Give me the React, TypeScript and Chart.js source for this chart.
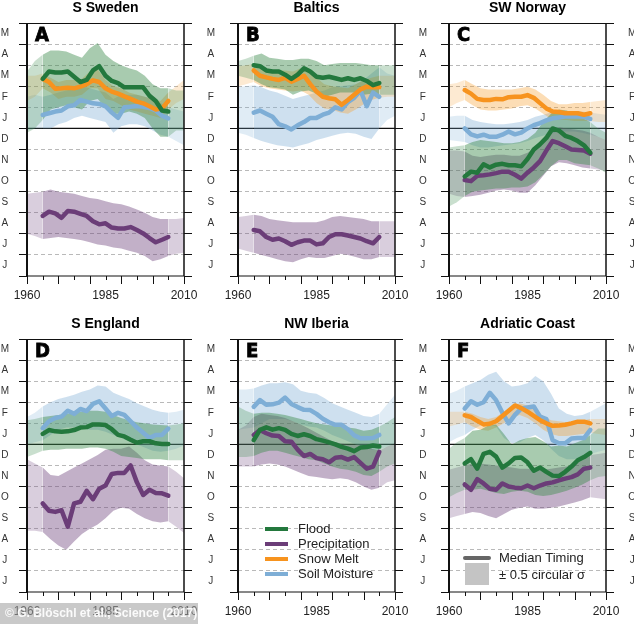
import React, { useEffect, useRef } from 'react';
import { Chart, registerables } from 'chart.js';

Chart.register(...registerables);
Chart.defaults.font.family = '"Liberation Sans", Arial, Helvetica, sans-serif';

// ---------- axes / categories ----------
const BAND_YEARS = [1960, 1962.5, 1965, 1967.5, 1970, 1972.5, 1975, 1977.5, 1980, 1982.5, 1985, 1987.5, 1990, 1992.5, 1995, 1997.5, 2000, 2002.5, 2005, 2007.5, 2010];
const MEDIAN_YEARS = [1965, 1967, 1969, 1971, 1973, 1975, 1977, 1979, 1981, 1983, 1985, 1987, 1989, 1991, 1993, 1995, 1997, 1999, 2001, 2003, 2005];
const Y_TICKS = [0, 0.5, 1, 1.5, 2, 2.5, 3, 3.5, 4, 4.5, 5, 5.5, 6, 6.5, 7, 7.5, 8, 8.5, 9, 9.5, 10, 10.5, 11, 11.5, 12];
const MONTH_LABELS = ['J', 'J', 'A', 'S', 'O', 'N', 'D', 'J', 'F', 'M', 'A', 'M'];
const X_TICKS = [1960, 1965, 1970, 1975, 1980, 1985, 1990, 1995, 2000, 2005, 2010];
const X_LABELS = [1960, 1985, 2010];
const YEAR_BOUNDARY = 7;
const INNER_START = 1965;
const INNER_END = 2005;

const LEGEND_ITEMS = [['flood', 'Flood'], ['precip', 'Precipitation'], ['snow', 'Snow Melt'], ['soil', 'Soil Moisture']];
const MEDIAN_LABEL = 'Median Timing';
const BAND_LABEL = '± 0.5 circular σ';
const CREDIT = '© G. Blöschl et al., Science (2017)';

// ---------- A: S Sweden ----------
const A_FLOOD = [9.35, 9.7, 9.65, 9.65, 9.7, 9.45, 9.2, 9.3, 9.75, 9.95, 9.5, 9.25, 9.15, 8.95, 8.95, 8.95, 8.95, 8.55, 8.3, 7.85, 7.8];
const A_FLOOD_HI = [9.7, 10.2, 10.5, 10.7, 10.7, 10.65, 10.5, 10.35, 10.8, 11.05, 10.5, 10.2, 10.0, 9.85, 9.75, 9.5, 9.1, 8.9, 8.9, 8.8, 8.8];
const A_FLOOD_LO = [6.8, 7.0, 7.4, 7.9, 8.0, 8.1, 8.0, 7.9, 8.3, 8.4, 8.0, 7.7, 7.7, 7.8, 7.7, 7.5, 7.0, 6.6, 6.6, 6.9, 6.9];
const A_SNOW = [9.35, 9.2, 8.88, 8.9, 8.93, 8.9, 8.98, 9.1, 9.28, 9.2, 8.9, 8.75, 8.65, 8.52, 8.4, 8.27, 8.19, 8.05, 7.9, 7.95, 8.3];
const A_SNOW_HI = [9.5, 9.5, 9.6, 9.4, 9.2, 9.3, 9.3, 9.35, 9.7, 9.8, 9.3, 9.0, 8.9, 8.7, 8.6, 8.5, 8.4, 8.3, 8.7, 9.0, 9.3];
const A_SNOW_LO = [8.3, 8.5, 8.9, 8.7, 8.4, 8.5, 8.5, 8.6, 8.9, 8.9, 8.4, 8.3, 8.1, 7.9, 7.8, 7.7, 7.6, 7.5, 7.9, 8.2, 8.4];
const A_SOIL = [7.64, 7.72, 7.8, 7.85, 8.05, 8.1, 8.35, 8.27, 8.19, 8.16, 8.05, 7.75, 7.5, 8.0, 8.03, 8.06, 8.03, 7.97, 7.85, 7.6, 7.48];
const A_SOIL_HI = [8.5, 8.6, 8.5, 8.6, 8.7, 8.8, 8.9, 9.0, 8.9, 8.8, 8.7, 8.4, 8.6, 8.6, 8.6, 8.5, 8.4, 8.2, 8.0, 7.9, 7.8];
const A_SOIL_LO = [6.9, 7.0, 7.0, 7.0, 7.2, 7.3, 7.5, 7.6, 7.5, 7.4, 7.3, 6.8, 7.1, 7.2, 7.2, 7.1, 6.9, 6.7, 6.6, 6.4, 6.2];
const A_PRECIP = [2.85, 3.05, 2.97, 2.76, 3.08, 3.05, 2.95, 2.85, 2.6, 2.45, 2.5, 2.3, 2.25, 2.25, 2.32, 2.18, 2.02, 1.8, 1.6, 1.72, 1.85];
const A_PRECIP_HI = [3.9, 3.95, 4.0, 4.1, 4.0, 3.95, 3.9, 3.8, 3.7, 3.65, 3.55, 3.45, 3.4, 3.3, 3.15, 3.0, 2.8, 2.7, 2.7, 2.7, 2.75];
const A_PRECIP_LO = [2.0, 1.9, 1.75, 1.8, 1.85, 1.8, 1.75, 1.7, 1.6, 1.5, 1.45, 1.35, 1.3, 1.2, 1.1, 0.95, 0.7, 0.8, 0.95, 1.05, 1.1];

// ---------- B: Baltics ----------
const B_FLOOD = [10.0, 9.95, 9.75, 9.7, 9.7, 9.55, 9.35, 9.55, 9.85, 9.7, 9.45, 9.4, 9.45, 9.38, 9.3, 9.38, 9.3, 9.38, 9.25, 9.05, 9.15];
const B_FLOOD_HI = [10.2, 10.3, 10.45, 10.55, 10.35, 10.3, 10.25, 10.25, 10.3, 10.3, 10.2, 10.0, 10.05, 10.1, 10.1, 10.1, 10.05, 10.0, 10.0, 10.0, 10.0];
const B_FLOOD_LO = [9.5, 9.4, 9.3, 9.1, 8.95, 8.9, 8.85, 8.6, 8.75, 8.8, 8.65, 8.5, 8.6, 8.7, 8.7, 8.7, 8.6, 8.65, 8.6, 8.6, 8.6];
const B_SNOW = [9.75, 9.5, 9.42, 9.35, 9.3, 9.4, 9.22, 9.35, 9.5, 9.1, 8.75, 8.5, 8.43, 8.38, 8.12, 8.35, 8.6, 8.85, 8.98, 8.95, 8.95];
const B_SNOW_HI = [9.95, 10.0, 10.05, 9.9, 9.8, 9.75, 9.75, 9.7, 9.85, 9.8, 9.4, 9.1, 9.0, 8.95, 8.9, 9.1, 9.3, 9.4, 9.5, 9.5, 9.5];
const B_SNOW_LO = [9.0, 9.1, 9.2, 9.0, 8.9, 8.85, 8.8, 8.75, 8.8, 8.6, 8.2, 7.95, 7.9, 7.75, 7.7, 7.9, 8.15, 8.35, 8.45, 8.5, 8.5];
const B_SOIL = [7.75, 7.85, 7.7, 7.55, 7.2, 7.1, 6.95, 7.15, 7.3, 7.5, 7.5, 7.65, 7.75, 8.0, 7.9, 8.25, 8.45, 8.8, 8.05, 8.7, 8.5];
const B_SOIL_HI = [8.95, 9.0, 9.05, 8.95, 8.8, 8.7, 8.55, 8.4, 8.5, 8.6, 8.7, 8.8, 8.95, 9.0, 9.05, 9.1, 9.3, 9.6, 9.9, 9.6, 9.5];
const B_SOIL_LO = [6.8, 6.7, 6.55, 6.4, 6.3, 6.2, 6.15, 6.1, 6.2, 6.3, 6.45, 6.55, 6.65, 6.75, 6.8, 6.75, 6.6, 6.5, 7.0, 7.4, 7.6];
const B_PRECIP = [2.18, 2.12, 1.85, 1.72, 1.78, 1.65, 1.48, 1.6, 1.68, 1.68, 1.5, 1.55, 1.85, 1.98, 1.98, 1.92, 1.85, 1.78, 1.65, 1.55, 1.85];
const B_PRECIP_HI = [2.8, 2.85, 2.9, 2.85, 2.7, 2.65, 2.6, 2.55, 2.55, 2.55, 2.55, 2.65, 2.8, 2.85, 2.8, 2.75, 2.7, 2.6, 2.6, 2.6, 2.6];
const B_PRECIP_LO = [1.3, 1.2, 1.1, 1.0, 0.9, 0.8, 0.7, 0.65, 0.8, 0.9, 0.85, 0.85, 0.95, 1.05, 1.0, 0.9, 0.8, 0.8, 0.9, 0.9, 0.9];

// ---------- C: SW Norway ----------
const C_FLOOD = [4.72, 4.95, 4.9, 5.3, 5.15, 5.28, 5.32, 5.25, 5.25, 5.2, 5.55, 6.0, 6.25, 6.55, 7.0, 6.9, 6.65, 6.55, 6.4, 6.2, 5.85];
const C_FLOOD_HI = [6.1, 6.15, 6.2, 6.35, 6.45, 6.4, 6.35, 6.3, 6.3, 6.35, 6.5, 6.8, 7.3, 7.7, 7.9, 7.85, 7.7, 7.5, 7.3, 7.0, 6.8];
const C_FLOOD_LO = [3.3, 3.5, 3.8, 4.0, 4.05, 4.1, 4.15, 4.15, 4.2, 4.2, 4.25, 4.45, 4.8, 5.2, 5.5, 5.5, 5.35, 5.3, 5.25, 5.1, 4.9];
const C_SNOW = [8.82, 8.65, 8.4, 8.35, 8.35, 8.4, 8.38, 8.48, 8.5, 8.5, 8.58, 8.45, 8.2, 7.95, 7.8, 7.78, 7.72, 7.72, 7.72, 7.65, 7.72];
const C_SNOW_HI = [9.1, 9.15, 9.3, 9.1, 8.9, 8.85, 8.85, 8.85, 8.85, 8.9, 8.98, 8.85, 8.6, 8.3, 8.15, 8.15, 8.2, 8.2, 8.25, 8.3, 8.35];
const C_SNOW_LO = [8.0, 8.2, 8.35, 8.1, 7.9, 7.85, 7.85, 7.9, 7.95, 8.05, 8.1, 7.95, 7.7, 7.45, 7.4, 7.4, 7.35, 7.35, 7.35, 7.3, 7.3];
const C_SOIL = [7.0, 6.72, 6.62, 6.7, 6.6, 6.6, 6.7, 6.85, 6.72, 6.8, 7.0, 7.15, 7.25, 7.38, 7.48, 7.52, 7.56, 7.56, 7.56, 7.55, 7.45];
const C_SOIL_HI = [7.55, 7.6, 7.6, 7.4, 7.3, 7.25, 7.2, 7.2, 7.25, 7.3, 7.4, 7.55, 7.65, 7.75, 7.8, 7.8, 7.8, 7.8, 7.75, 7.7, 7.65];
const C_SOIL_LO = [6.45, 6.4, 6.35, 6.2, 6.1, 6.1, 6.15, 6.2, 6.25, 6.3, 6.4, 6.55, 6.65, 6.75, 6.85, 6.85, 6.85, 6.8, 6.7, 6.6, 6.45];
const C_PRECIP = [4.55, 4.5, 4.75, 4.78, 4.82, 4.88, 4.95, 4.95, 4.8, 4.62, 4.9, 5.15, 5.45, 5.95, 6.4, 6.3, 6.15, 6.0, 5.98, 5.95, 5.8];
const C_PRECIP_HI = [5.95, 5.95, 5.9, 5.7, 5.65, 5.7, 5.75, 5.75, 5.7, 5.7, 5.85, 6.1, 6.5, 6.9, 7.05, 7.0, 6.95, 6.9, 6.8, 6.6, 6.45];
const C_PRECIP_LO = [3.9, 3.8, 3.75, 3.8, 3.85, 3.95, 4.05, 4.1, 4.05, 3.95, 3.95, 4.3, 4.75, 5.2, 5.4, 5.35, 5.25, 5.15, 5.1, 5.05, 5.0];

// ---------- D: S England ----------
const D_FLOOD = [7.5, 7.68, 7.62, 7.6, 7.62, 7.68, 7.8, 7.82, 7.95, 7.95, 7.92, 7.72, 7.45, 7.38, 7.22, 7.08, 7.15, 7.15, 7.05, 7.02, 7.02];
const D_FLOOD_HI = [8.15, 8.2, 8.3, 8.35, 8.4, 8.45, 8.5, 8.55, 8.6, 8.6, 8.55, 8.4, 8.25, 8.15, 8.05, 8.0, 7.95, 7.92, 7.9, 7.95, 8.0];
const D_FLOOD_LO = [6.4, 6.55, 6.7, 6.75, 6.75, 6.8, 6.8, 6.8, 6.85, 6.85, 6.8, 6.65, 6.45, 6.4, 6.35, 6.3, 6.3, 6.3, 6.25, 6.25, 6.25];
const D_SOIL = [7.77, 8.1, 8.25, 8.32, 8.6, 8.45, 8.68, 8.58, 8.92, 9.05, 8.7, 8.35, 8.5, 8.4, 8.1, 7.8, 7.55, 7.3, 7.45, 7.45, 7.75];
const D_SOIL_HI = [8.3, 8.5, 8.8, 9.0, 9.15, 9.25, 9.35, 9.5, 9.6, 9.8, 9.75, 9.45, 9.3, 9.15, 8.95, 8.8, 8.65, 8.55, 8.5, 8.55, 8.65];
const D_SOIL_LO = [7.0, 7.1, 7.2, 7.45, 7.7, 7.8, 7.8, 7.75, 7.7, 7.7, 7.6, 7.45, 7.3, 7.15, 7.0, 6.85, 6.7, 6.65, 6.7, 6.8, 6.95];
const D_PRECIP = [4.2, 3.85, 3.8, 3.88, 3.1, 4.2, 4.28, 4.8, 4.4, 4.9, 5.05, 5.6, 5.65, 5.65, 6.0, 5.2, 4.6, 4.85, 4.7, 4.68, 4.57];
const D_PRECIP_HI = [6.3, 6.1, 5.9, 5.55, 5.5, 5.7, 5.9, 6.1, 6.3, 6.5, 6.75, 6.8, 6.8, 6.9, 6.6, 6.25, 6.05, 6.0, 5.95, 5.7, 5.4];
const D_PRECIP_LO = [2.9, 2.9, 2.85, 2.5, 2.2, 2.0, 2.4, 2.75, 3.0, 3.2, 3.5, 3.85, 4.0, 3.95, 3.7, 3.5, 3.35, 3.3, 3.35, 3.1, 2.8];

// ---------- E: NW Iberia ----------
const E_FLOOD = [7.2, 7.69, 7.81, 7.7, 7.77, 7.69, 7.5, 7.4, 7.48, 7.4, 7.25, 7.18, 7.1, 7.0, 6.88, 6.8, 6.68, 6.85, 6.88, 6.95, 6.9];
const E_FLOOD_HI = [8.8, 8.6, 8.45, 8.5, 8.5, 8.45, 8.4, 8.3, 8.2, 8.1, 8.0, 7.95, 7.9, 7.85, 7.8, 7.75, 7.65, 7.7, 7.85, 8.05, 8.3];
const E_FLOOD_LO = [6.4, 6.4, 6.45, 6.6, 6.7, 6.7, 6.6, 6.5, 6.4, 6.3, 6.25, 6.1, 5.95, 5.85, 5.8, 5.7, 5.55, 5.5, 5.7, 5.95, 6.1];
const E_SOIL = [8.78, 9.1, 8.88, 8.9, 8.98, 9.22, 8.92, 8.77, 8.64, 8.63, 8.45, 8.22, 8.05, 7.93, 7.93, 7.72, 7.43, 7.29, 7.29, 7.3, 7.45];
const E_SOIL_HI = [9.6, 9.6, 9.65, 9.8, 9.9, 9.9, 9.95, 9.85, 9.55, 9.45, 9.4, 9.2, 8.95, 8.8, 8.65, 8.5, 8.35, 8.3, 8.45, 8.9, 9.35];
const E_SOIL_LO = [7.7, 7.75, 7.8, 8.0, 8.2, 8.2, 8.2, 8.1, 7.95, 7.85, 7.8, 7.65, 7.45, 7.3, 7.15, 7.0, 6.85, 6.75, 6.75, 6.9, 7.05];
const E_PRECIP = [7.45, 7.68, 7.53, 7.42, 7.4, 7.15, 7.13, 6.75, 6.45, 6.55, 6.35, 6.3, 6.15, 6.37, 6.4, 6.28, 6.4, 6.12, 5.85, 5.95, 6.65];
const E_PRECIP_HI = [7.7, 7.9, 8.3, 8.45, 8.4, 8.35, 8.25, 8.1, 7.95, 7.75, 7.55, 7.35, 7.15, 7.05, 7.0, 7.0, 6.95, 6.8, 6.7, 6.9, 7.05];
const E_PRECIP_LO = [5.95, 5.95, 5.95, 6.05, 6.1, 6.05, 5.95, 5.8, 5.65, 5.5, 5.45, 5.4, 5.35, 5.4, 5.35, 5.2, 5.0, 4.85, 4.95, 5.2, 5.3];

// ---------- F: Adriatic Coast ----------
const F_FLOOD = [6.1, 6.3, 5.85, 6.55, 6.65, 6.42, 5.9, 6.1, 6.36, 6.38, 6.15, 5.75, 5.9, 5.7, 5.52, 5.5, 5.7, 5.95, 6.25, 6.4, 6.6];
const F_FLOOD_HI = [6.8, 7.1, 7.3, 7.65, 7.7, 7.9, 7.95, 7.5, 7.0, 7.2, 7.3, 7.35, 7.15, 6.9, 6.95, 6.9, 7.05, 7.2, 7.45, 7.75, 7.75];
const F_FLOOD_LO = [4.5, 4.7, 4.85, 4.85, 4.9, 4.8, 4.7, 4.65, 4.75, 4.8, 4.75, 4.6, 4.55, 4.6, 4.7, 4.8, 4.95, 5.1, 5.3, 5.45, 5.5];
const F_SNOW = [8.38, 8.3, 8.12, 7.95, 7.98, 8.1, 8.35, 8.6, 8.85, 8.72, 8.55, 8.35, 8.15, 8.0, 7.88, 7.9, 7.93, 8.0, 8.08, 8.08, 8.0];
const F_SNOW_HI = [8.55, 8.55, 8.55, 8.45, 8.3, 8.2, 8.3, 8.55, 8.75, 8.95, 8.85, 8.6, 8.35, 8.15, 8.1, 8.05, 8.1, 8.15, 8.2, 8.2, 8.2];
const F_SNOW_LO = [7.85, 7.95, 8.05, 7.85, 7.7, 7.65, 7.8, 8.0, 8.25, 8.4, 8.25, 8.0, 7.7, 7.5, 7.4, 7.4, 7.45, 7.5, 7.55, 7.5, 7.45];
const F_SOIL = [8.7, 9.05, 8.88, 9.0, 9.45, 9.1, 8.5, 8.0, 8.4, 8.7, 8.75, 8.8, 8.32, 8.2, 7.2, 7.05, 7.05, 7.28, 7.3, 7.3, 7.69];
const F_SOIL_HI = [9.4, 9.55, 9.75, 9.9, 10.05, 10.3, 10.45, 10.0, 9.75, 9.8, 9.9, 10.25, 10.0, 9.4, 8.7, 8.45, 8.35, 8.4, 8.55, 8.75, 8.95];
const F_SOIL_LO = [7.1, 7.3, 7.45, 7.7, 7.9, 7.95, 7.85, 7.3, 7.05, 7.1, 7.3, 7.45, 7.2, 6.8, 6.45, 6.3, 6.3, 6.4, 6.55, 6.65, 6.75];
const F_PRECIP = [5.1, 4.85, 5.35, 5.15, 4.9, 4.85, 5.15, 5.0, 4.95, 4.92, 5.05, 4.92, 5.05, 5.15, 5.2, 5.3, 5.38, 5.45, 5.58, 5.85, 5.9];
const F_PRECIP_HI = [5.8, 5.9, 6.0, 6.1, 6.1, 6.05, 6.0, 5.95, 5.9, 5.85, 5.85, 5.8, 5.8, 5.85, 5.9, 5.95, 6.05, 6.25, 6.5, 6.55, 6.6];
const F_PRECIP_LO = [3.5, 3.6, 3.7, 3.8, 3.75, 3.6, 3.5, 3.7, 3.9, 4.0, 4.05, 3.95, 3.95, 4.0, 4.05, 4.15, 4.25, 4.35, 4.5, 4.45, 4.4];

// ---------- styles ----------
const STYLE: any = {
  flood: { line: '#23783d', inner: 'rgba(62,140,78,0.45)', outer: 'rgba(62,140,78,0.28)', order: 0 },
  snow: { line: '#f7931e', inner: 'rgba(248,160,50,0.36)', outer: 'rgba(248,160,50,0.22)', order: 1 },
  precip: { line: '#6b3d78', inner: 'rgba(110,66,125,0.42)', outer: 'rgba(110,66,125,0.26)', order: 2 },
  soil: { line: '#7eaed6', inner: 'rgba(126,174,214,0.38)', outer: 'rgba(126,174,214,0.24)', order: 3 },
};

const AREA_LEFT = [27, 238, 449];
const AREA_TOP = [23, 339];
const AREA_W = 157;
const AREA_H = 253;
const AXIS_W = 40;
const PAD_TOP = 23;
const X_AXIS_H = 34;
const CANVAS_W = AREA_W + 2 * AXIS_W;
const CANVAS_H = PAD_TOP + AREA_H + X_AXIS_H;
const LEFT_LABEL_PAD = [10, 15, 14];

const PANELS: any[] = [
  { title: 'S Sweden', letter: 'A', col: 0, row: 0, series: [
    { key: 'soil', med: A_SOIL, hi: A_SOIL_HI, lo: A_SOIL_LO },
    { key: 'precip', med: A_PRECIP, hi: A_PRECIP_HI, lo: A_PRECIP_LO },
    { key: 'snow', med: A_SNOW, hi: A_SNOW_HI, lo: A_SNOW_LO },
    { key: 'flood', med: A_FLOOD, hi: A_FLOOD_HI, lo: A_FLOOD_LO },
  ] },
  { title: 'Baltics', letter: 'B', col: 1, row: 0, series: [
    { key: 'soil', med: B_SOIL, hi: B_SOIL_HI, lo: B_SOIL_LO },
    { key: 'precip', med: B_PRECIP, hi: B_PRECIP_HI, lo: B_PRECIP_LO },
    { key: 'snow', med: B_SNOW, hi: B_SNOW_HI, lo: B_SNOW_LO },
    { key: 'flood', med: B_FLOOD, hi: B_FLOOD_HI, lo: B_FLOOD_LO },
  ] },
  { title: 'SW Norway', letter: 'C', col: 2, row: 0, series: [
    { key: 'soil', med: C_SOIL, hi: C_SOIL_HI, lo: C_SOIL_LO },
    { key: 'precip', med: C_PRECIP, hi: C_PRECIP_HI, lo: C_PRECIP_LO },
    { key: 'snow', med: C_SNOW, hi: C_SNOW_HI, lo: C_SNOW_LO },
    { key: 'flood', med: C_FLOOD, hi: C_FLOOD_HI, lo: C_FLOOD_LO },
  ] },
  { title: 'S England', letter: 'D', col: 0, row: 1, series: [
    { key: 'soil', med: D_SOIL, hi: D_SOIL_HI, lo: D_SOIL_LO },
    { key: 'precip', med: D_PRECIP, hi: D_PRECIP_HI, lo: D_PRECIP_LO },
    { key: 'flood', med: D_FLOOD, hi: D_FLOOD_HI, lo: D_FLOOD_LO },
  ] },
  { title: 'NW Iberia', letter: 'E', col: 1, row: 1, legend: 'series', series: [
    { key: 'soil', med: E_SOIL, hi: E_SOIL_HI, lo: E_SOIL_LO },
    { key: 'precip', med: E_PRECIP, hi: E_PRECIP_HI, lo: E_PRECIP_LO },
    { key: 'flood', med: E_FLOOD, hi: E_FLOOD_HI, lo: E_FLOOD_LO },
  ] },
  { title: 'Adriatic Coast', letter: 'F', col: 2, row: 1, legend: 'median', series: [
    { key: 'soil', med: F_SOIL, hi: F_SOIL_HI, lo: F_SOIL_LO },
    { key: 'precip', med: F_PRECIP, hi: F_PRECIP_HI, lo: F_PRECIP_LO },
    { key: 'snow', med: F_SNOW, hi: F_SNOW_HI, lo: F_SNOW_LO },
    { key: 'flood', med: F_FLOOD, hi: F_FLOOD_HI, lo: F_FLOOD_LO },
  ] },
];

const CLEAR = 'rgba(0,0,0,0)';

function buildDatasets(series: any[]) {
  const ds: any[] = [];
  series.forEach((s) => {
    const st = STYLE[s.key];
    ds.push({
      data: BAND_YEARS.map((x, i) => ({ x, y: s.hi[i] })),
      borderWidth: 0, borderColor: CLEAR, pointRadius: 0, tension: 0,
      backgroundColor: st.inner, fill: '+1', order: 10 + st.order,
      segment: {
        backgroundColor: (c: any) =>
          BAND_YEARS[c.p0DataIndex] >= INNER_START && BAND_YEARS[c.p1DataIndex] <= INNER_END ? st.inner : st.outer,
      },
    });
    ds.push({
      data: BAND_YEARS.map((x, i) => ({ x, y: s.lo[i] })),
      borderWidth: 0, borderColor: CLEAR, pointRadius: 0, tension: 0,
      backgroundColor: CLEAR, fill: false, order: 10 + st.order,
    });
  });
  series.forEach((s) => {
    const st = STYLE[s.key];
    ds.push({
      data: MEDIAN_YEARS.map((x, i) => ({ x, y: s.med[i] })),
      borderColor: st.line, borderWidth: 4.5, pointRadius: 0, tension: 0,
      borderCapStyle: 'round', borderJoinStyle: 'round', fill: false, order: st.order,
    });
  });
  return ds;
}

function yAxis(position: string, showLabels: boolean, pad: number) {
  return {
    type: 'linear', position, min: 0, max: 12,
    afterBuildTicks: (axis: any) => { axis.ticks = Y_TICKS.map((v) => ({ value: v })); },
    afterFit: (axis: any) => { axis.width = AXIS_W; },
    ticks: {
      autoSkip: false, padding: pad, crossAlign: 'center', color: '#333',
      font: { size: 10 },
      callback: (v: number) => (showLabels && v % 1 === 0.5 ? MONTH_LABELS[Math.floor(v)] : ''),
    },
    grid: {
      drawOnChartArea: position === 'left', drawTicks: true, tickLength: 8, lineWidth: 1, tickWidth: 1,
      color: (c: any) => {
        const v = c.tick ? c.tick.value : 0;
        return v % 1 === 0 && v > 0 && v < 12 && v !== YEAR_BOUNDARY ? '#b9b9b9' : CLEAR;
      },
      tickColor: (c: any) => (c.tick && c.tick.value % 1 === 0 ? '#111' : CLEAR),
    },
    border: { display: false, dash: [4, 3] },
  };
}

function decor(p: any) {
  return {
    id: 'decor' + p.letter,
    beforeDatasetsDraw(chart: any) {
      const { ctx, chartArea: a, scales } = chart;
      const y = scales.y.getPixelForValue(YEAR_BOUNDARY);
      ctx.save();
      ctx.strokeStyle = '#111';
      ctx.lineWidth = 1.2;
      ctx.beginPath();
      ctx.moveTo(a.left, y);
      ctx.lineTo(a.right, y);
      ctx.stroke();
      ctx.restore();
    },
    afterDraw(chart: any) {
      const { ctx, chartArea: a, scales } = chart;
      ctx.save();
      // box
      ctx.strokeStyle = '#111';
      ctx.lineWidth = 1;
      ctx.beginPath();
      ctx.moveTo(a.left, a.top + 0.5); ctx.lineTo(a.right, a.top + 0.5);
      ctx.moveTo(a.left, a.bottom); ctx.lineTo(a.right, a.bottom);
      ctx.stroke();
      ctx.lineWidth = 2;
      ctx.beginPath();
      ctx.moveTo(a.left, a.top); ctx.lineTo(a.left, a.bottom);
      ctx.stroke();
      ctx.lineWidth = 1.5;
      ctx.beginPath();
      ctx.moveTo(a.right, a.top); ctx.lineTo(a.right, a.bottom);
      ctx.stroke();
      // x ticks
      ctx.lineWidth = 1;
      ctx.beginPath();
      X_TICKS.forEach((v) => {
        const x = Math.round(scales.x.getPixelForValue(v)) + 0.5;
        ctx.moveTo(x, a.bottom);
        ctx.lineTo(x, a.bottom + (v % 10 === 0 ? 8 : 4));
      });
      ctx.stroke();
      // title
      ctx.fillStyle = '#000';
      ctx.font = 'bold 14px "Liberation Sans", Arial, sans-serif';
      ctx.textAlign = 'center';
      ctx.textBaseline = 'middle';
      ctx.fillText(p.title, (a.left + a.right) / 2, a.top - 15);
      // panel letter
      ctx.font = 'bold 20px "DejaVu Sans Condensed", "DejaVu Sans", sans-serif';
      ctx.textAlign = 'left';
      ctx.textBaseline = 'alphabetic';
      ctx.lineWidth = 0.8;
      ctx.strokeStyle = '#000';
      ctx.fillText(p.letter, a.left + 8, a.top + 18);
      ctx.strokeText(p.letter, a.left + 8, a.top + 18);
      // legends
      ctx.font = '13px "Liberation Sans", Arial, sans-serif';
      ctx.textBaseline = 'middle';
      if (p.legend === 'series') {
        LEGEND_ITEMS.forEach(([key, label], i) => {
          const y = a.top + 190 + i * 15;
          ctx.strokeStyle = STYLE[key].line;
          ctx.lineWidth = 4;
          ctx.lineCap = 'butt';
          ctx.beginPath();
          ctx.moveTo(a.left + 27, y);
          ctx.lineTo(a.left + 50, y);
          ctx.stroke();
          ctx.fillStyle = '#222';
          ctx.fillText(label, a.left + 60, y);
        });
      }
      if (p.legend === 'median') {
        ctx.fillStyle = '#c4c4c4';
        ctx.fillRect(a.left + 16, a.top + 224, 24, 22);
        ctx.strokeStyle = '#666';
        ctx.lineWidth = 4;
        ctx.lineCap = 'round';
        ctx.beginPath();
        ctx.moveTo(a.left + 16, a.top + 219);
        ctx.lineTo(a.left + 40, a.top + 219);
        ctx.stroke();
        ctx.fillStyle = '#222';
        ctx.fillText(MEDIAN_LABEL, a.left + 50, a.top + 219);
        ctx.fillText(BAND_LABEL, a.left + 50, a.top + 236);
      }
      ctx.restore();
    },
  };
}

function Panel({ p }: { p: any }) {
  const ref = useRef<HTMLCanvasElement>(null);
  useEffect(() => {
    const chart = new Chart(ref.current as HTMLCanvasElement, {
      type: 'line',
      data: { datasets: buildDatasets(p.series) },
      options: {
        responsive: false,
        maintainAspectRatio: false,
        animation: false,
        devicePixelRatio: 1,
        events: [],
        layout: { padding: { top: PAD_TOP, left: 0, right: 0, bottom: 0 } },
        plugins: { legend: { display: false }, tooltip: { enabled: false }, title: { display: false } },
        scales: {
          x: {
            type: 'linear', min: 1960, max: 2010,
            afterBuildTicks: (axis: any) => { axis.ticks = X_TICKS.map((v) => ({ value: v })); },
            afterFit: (axis: any) => { axis.height = X_AXIS_H; },
            ticks: {
              autoSkip: false, maxRotation: 0, minRotation: 0, padding: 12, color: '#222',
              font: { size: 12 },
              callback: (v: number) => (X_LABELS.includes(v) ? String(v) : ''),
            },
            grid: { display: false, drawTicks: false },
            border: { display: false },
          },
          y: yAxis('left', true, LEFT_LABEL_PAD[p.col]),
          yr: yAxis('right', p.col === 2, 14),
        } as any,
      } as any,
      plugins: [decor(p)],
    } as any);
    return () => chart.destroy();
  }, [p]);
  const left = AREA_LEFT[p.col] - AXIS_W;
  const top = AREA_TOP[p.row] - PAD_TOP;
  return (
    <canvas
      ref={ref}
      width={CANVAS_W}
      height={CANVAS_H}
      style={{ position: 'absolute', left, top, width: CANVAS_W, height: CANVAS_H }}
    />
  );
}

export default function App() {
  return (
    <div style={{ position: 'absolute', left: 0, top: 0, width: 634, height: 624, overflow: 'hidden', background: '#fff' }}>
      {PANELS.map((p) => <Panel key={p.letter} p={p} />)}
      <div
        style={{
          position: 'absolute', left: 0, top: 603, width: 198, height: 21,
          background: 'rgba(165,165,165,0.6)', color: 'rgba(255,255,255,0.92)',
          font: 'bold 12px "Liberation Sans", Arial, sans-serif', lineHeight: '21px',
          paddingLeft: 5, boxSizing: 'border-box', whiteSpace: 'nowrap', overflow: 'hidden',
        }}
      >
        {CREDIT}
      </div>
    </div>
  );
}
